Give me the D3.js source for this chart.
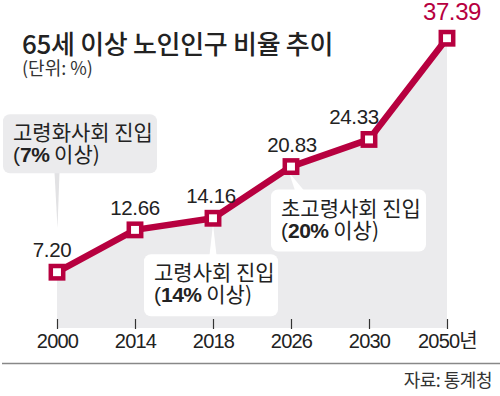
<!DOCTYPE html>
<html>
<head>
<meta charset="utf-8">
<script src="https://cdn.jsdelivr.net/npm/d3@7/dist/d3.min.js"></script>
<style>
  body { margin: 0; background: #fff; }
  svg { display: block; font-family: "Liberation Sans", Arial, "Noto Sans CJK KR", sans-serif; }
</style>
</head>
<body>
<div id="chart"></div>
<script>
// data
const years = ["2000", "2014", "2018", "2026", "2030", "2050"];
const ratios = [7.20, 12.66, 14.16, 20.83, 24.33, 37.39];
const valueLabels = ["7.20", "12.66", "14.16", "20.83", "24.33", "37.39"];
const tickLabels = ["2000", "2014", "2018", "2026", "2030", "2050년"];
const noteYears = ["2000", "2018", "2026"];
const noteTitles = ["고령화사회 진입", "고령사회 진입", "초고령사회 진입"];
const notePcts = ["7%", "14%", "20%"];

const width = 500, height = 396;
const red = "#b7003f";
const kr = "'Noto Sans CJK KR', sans-serif";

const svg = d3.select("#chart").append("svg")
  .attr("width", width)
  .attr("height", height);

const x = d3.scalePoint().domain(years).range([57, 447]);
const y = d3.scaleLinear().domain([0, 40]).range([328, 18]);

const pts = years.map((yr, i) => ({ year: yr, v: ratios[i], label: valueLabels[i] }));

// title
svg.append("text")
  .attr("x", 22).attr("y", 54)
  .attr("font-family", kr)
  .attr("font-size", 26).attr("font-weight", 500)
  .attr("fill", "#222")
  .attr("letter-spacing", -0.3)
  .text("65세 이상 노인인구 비율 추이");

svg.append("text")
  .attr("x", 22).attr("y", 75)
  .attr("font-family", kr)
  .attr("font-size", 18)
  .attr("fill", "#333")
  .text("(단위: %)");

// grey area under line
const area = d3.area()
  .x(d => x(d.year))
  .y0(y(0))
  .y1(d => y(d.v));

svg.append("path")
  .datum(pts)
  .attr("d", area)
  .attr("fill", "#ebebed");

// note boxes (offsets relative to the point they point at)
const boxes = [
  { dx: -54, dy: -158, w: 154, h: 59, fill: "#ebebed" },
  { dx: -69, dy: 36, w: 134, h: 62, fill: "#ffffff" },
  { dx: -20, dy: 23, w: 155, h: 62, fill: "#ffffff" }
];

noteYears.forEach((yr, i) => {
  const px = x(yr);
  const py = y(ratios[years.indexOf(yr)]);
  const b = boxes[i];
  const bx = px + b.dx, by = py + b.dy;

  // stem
  let stem;
  if (i === 0) stem = [[px - 2.5, by + b.h - 1], [px + 2.5, by + b.h - 1], [px + 0.5, py - 44]];
  else if (i === 1) stem = [[px - 3.5, by + 1], [px + 3.5, by + 1], [px, py + 6]];
  else stem = [[px - 2, py + 6], [px + 4, by + 1], [px + 13, by + 1]];
  svg.append("polygon")
    .attr("points", stem.map(p => p.join(",")).join(" "))
    .attr("fill", i === 0 ? "#e2e2e4" : "#ffffff");

  svg.append("rect")
    .attr("x", bx).attr("y", by)
    .attr("width", b.w).attr("height", b.h)
    .attr("rx", 7)
    .attr("fill", b.fill);

  svg.append("text")
    .attr("x", bx + 10).attr("y", by + 26)
    .attr("font-family", kr)
    .attr("font-size", 21)
    .attr("fill", "#222")
    .text(noteTitles[i]);

  const t2 = svg.append("text")
    .attr("x", bx + 10).attr("y", by + 48)
    .attr("font-size", 21)
    .attr("fill", "#222");
  t2.append("tspan").text("(");
  t2.append("tspan").attr("font-weight", "bold").attr("letter-spacing", -0.5).text(notePcts[i]);
  t2.append("tspan").attr("font-family", kr).text(" 이상)");
});

// x axis
const xAxis = svg.append("g")
  .attr("transform", "translate(0,319)")
  .call(d3.axisBottom(x).tickSize(10).tickFormat((d, i) => tickLabels[i]));
xAxis.select(".domain").remove();
xAxis.selectAll(".tick line").attr("stroke", "#333").attr("stroke-width", 1.2);
xAxis.selectAll(".tick text")
  .attr("y", 29).attr("dy", 0)
  .attr("font-size", 20)
  .attr("letter-spacing", -0.8)
  .attr("fill", "#222")
  .attr("font-family", "'Liberation Sans', Arial, 'Noto Sans CJK KR', sans-serif");

// line
const line = d3.line().x(d => x(d.year)).y(d => y(d.v));
svg.append("path")
  .datum(pts)
  .attr("d", line)
  .attr("fill", "none")
  .attr("stroke", red)
  .attr("stroke-width", 6.5)
  .attr("stroke-linejoin", "round");

// markers
svg.append("g").selectAll("rect")
  .data(pts)
  .join("rect")
  .attr("x", d => x(d.year) - 6.2)
  .attr("y", d => y(d.v) - 6.2)
  .attr("width", 12.4).attr("height", 12.4)
  .attr("fill", "#fff")
  .attr("stroke", red)
  .attr("stroke-width", 4.5);

// value labels
const labelDx = [-5, 0, -2, 1, -15, 5];
svg.append("g").selectAll("text")
  .data(pts)
  .join("text")
  .attr("x", (d, i) => x(d.year) + labelDx[i])
  .attr("y", (d, i) => y(d.v) - (i === pts.length - 1 ? 18 : 15))
  .attr("text-anchor", "middle")
  .attr("font-size", (d, i) => i === pts.length - 1 ? 24 : 20.5)
  .attr("letter-spacing", -0.4)
  .attr("fill", (d, i) => i === pts.length - 1 ? red : "#222")
  .text(d => d.label);

// divider and source
svg.append("line")
  .attr("x1", 2).attr("x2", width)
  .attr("y1", 363.5).attr("y2", 363.5)
  .attr("stroke", "#888").attr("stroke-width", 1.5);

svg.append("text")
  .attr("x", 492).attr("y", 387)
  .attr("text-anchor", "end")
  .attr("font-family", kr)
  .attr("font-size", 18)
  .attr("letter-spacing", -0.5)
  .attr("fill", "#333")
  .text("자료: 통계청");
</script>
</body>
</html>
